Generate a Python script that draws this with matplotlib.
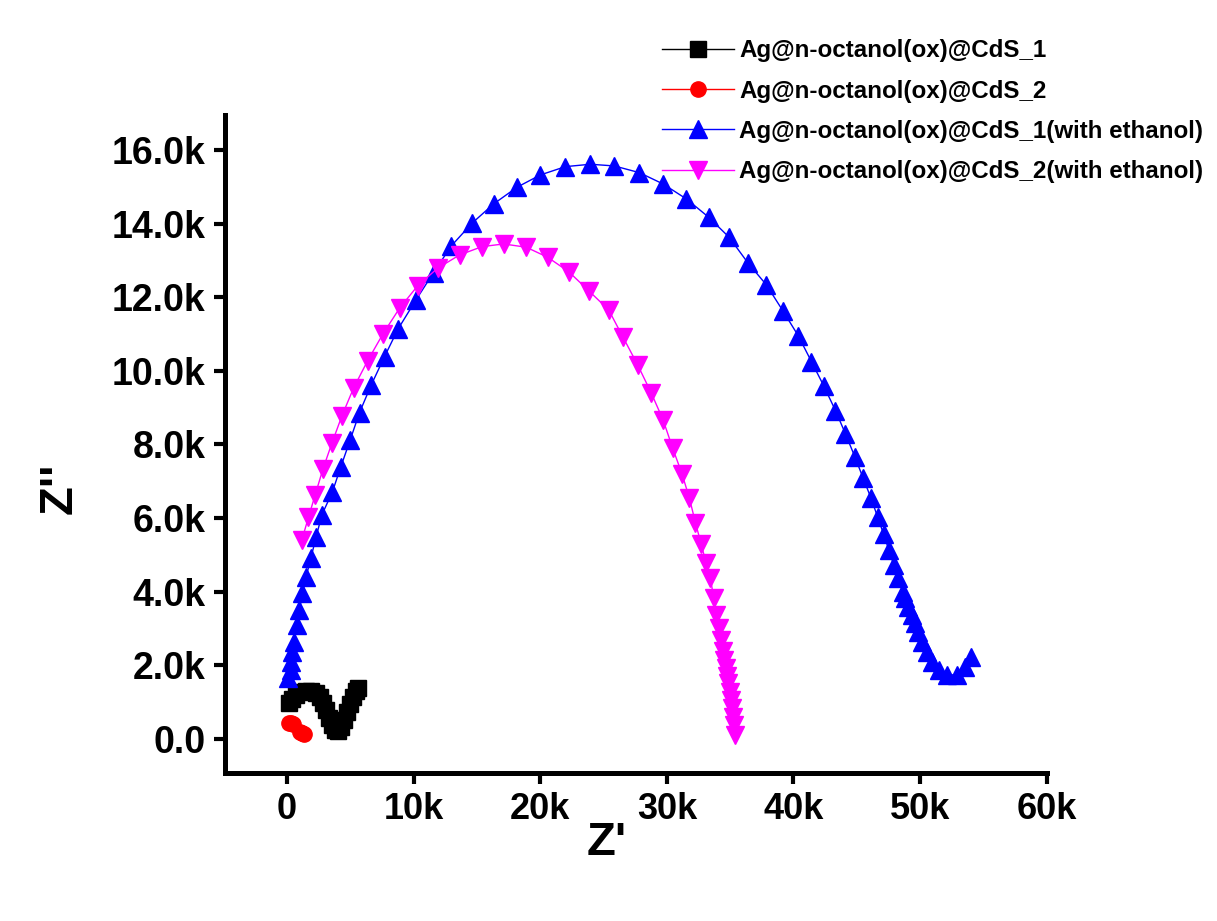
#!/usr/bin/env python3
# -*- coding: utf-8 -*-
"""
Nyquist plot (Z' vs Z'') for four Ag@n-octanol(ox)@CdS samples.
Saves out.png
"""

import matplotlib
matplotlib.use("Agg")
import matplotlib.pyplot as plt
from matplotlib.ticker import FuncFormatter


# --------------------------
# data (ohm)
# --------------------------

labels = [
    "Ag@n-octanol(ox)@CdS_1",
    "Ag@n-octanol(ox)@CdS_2",
    "Ag@n-octanol(ox)@CdS_1(with ethanol)",
    "Ag@n-octanol(ox)@CdS_2(with ethanol)",
]

cds1_x = [158, 395, 712, 1107, 1502, 1897, 2292, 2609, 2846, 3083, 3320,
          3557, 3794, 4032, 4269, 4506, 4743, 4980, 5217, 5455, 5613]
cds1_y = [978, 1087, 1196, 1277, 1304, 1304, 1250, 1141, 978, 788, 571,
          380, 245, 217, 326, 516, 734, 951, 1141, 1304, 1386]

cds2_x = [150, 300, 450, 1000, 1150, 1300]
cds2_y = [430, 440, 400, 200, 150, 130]

eth1_x = [103, 292, 292, 372, 553, 767, 972, 1209, 1502, 1873, 2292, 2743,
          3581, 4245, 4980, 5715, 6640, 7692, 8751, 10174, 11565, 12964,
          14601, 16308, 18158, 20000, 21976, 23953, 25850, 27826, 29700,
          31541, 33304, 34917, 36388, 37865, 39154, 40372, 41423, 42395,
          43320, 44110, 44845, 45509, 46110, 46640, 47114, 47533, 47928,
          48276, 48640, 48799, 49067, 49328, 49565, 49826, 50174, 50514,
          50964, 51487, 52150, 52941, 53518, 53992]
eth1_y = [1649, 1875, 2100, 2372, 2644, 3097, 3505, 3958, 4411, 4911, 5497,
          6087, 6720, 7399, 8124, 8866, 9617, 10387, 11132, 11928, 12670,
          13395, 14012, 14536, 14990, 15324, 15550, 15615, 15569, 15387,
          15079, 14672, 14175, 13631, 12941, 12335, 11637, 10958, 10251,
          9591, 8920, 8287, 7670, 7083, 6556, 6040, 5570, 5135, 4728, 4366,
          4002, 3823, 3595, 3369, 3144, 2915, 2644, 2372, 2100, 1875, 1739,
          1739, 1964, 2236]

eth2_x = [1162, 1684, 2213, 2822, 3533, 4324, 5241, 6348, 7565, 8877, 10300,
          11881, 13620, 15391, 17099, 18893, 20577, 22237, 23818, 25399,
          26537, 27692, 28751, 29700, 30459, 31202, 31779, 32253, 32704,
          33099, 33439, 33700, 33911, 34093, 34282, 34440, 34543, 34646,
          34757, 34862, 34966, 35075, 35154, 35233, 35336, 35415]
eth2_y = [5407, 6023, 6630, 7328, 8034, 8776, 9529, 10270, 11004, 11702,
          12308, 12789, 13150, 13376, 13449, 13360, 13088, 12697, 12181,
          11657, 10914, 10162, 9409, 8667, 7898, 7192, 6540, 5877, 5298,
          4774, 4366, 3823, 3369, 3008, 2690, 2399, 2146, 1921, 1712, 1513,
          1285, 1060, 834, 606, 380, 109]

x_ticks = [0, 10000, 20000, 30000, 40000, 50000, 60000]
y_ticks = [0, 2000, 4000, 6000, 8000, 10000, 12000, 14000, 16000]


def kfmt_x(v, pos):
    return "0" if v == 0 else f"{v / 1000:.0f}k"


def kfmt_y(v, pos):
    return "0.0" if v == 0 else f"{v / 1000:.1f}k"


def main():
    plt.rcParams["font.family"] = ["Liberation Sans", "DejaVu Sans"]
    plt.rcParams["font.weight"] = "bold"

    fig = plt.figure(figsize=(12.17, 9.21), dpi=100)
    ax = fig.add_axes([0.185, 0.161, 0.675, 0.714])

    series = [
        (cds1_x, cds1_y, "black", "s", 12),
        (cds2_x, cds2_y, "red", "o", 11),
        (eth1_x, eth1_y, "blue", "^", 13),
        (eth2_x, eth2_y, "magenta", "v", 13),
    ]
    for (xs, ys, c, m, ms), lab in zip(series, labels):
        ax.plot(xs, ys, color=c, lw=1.0, marker=m, ms=ms,
                mec=c, mfc=c, label=lab)

    ax.set_xlim(-4900, 60000)
    ax.set_ylim(-920, 16950)
    ax.set_xticks(x_ticks)
    ax.set_yticks(y_ticks)
    ax.xaxis.set_major_formatter(FuncFormatter(kfmt_x))
    ax.yaxis.set_major_formatter(FuncFormatter(kfmt_y))

    # only left / bottom axes, thick
    for s in ["top", "right"]:
        ax.spines[s].set_visible(False)
    for s in ["left", "bottom"]:
        ax.spines[s].set_linewidth(3.6)
    ax.tick_params(direction="out", length=8, width=3, labelsize=26, pad=6)
    ax.tick_params(axis="y", labelsize=27)
    for t in ax.get_xticklabels() + ax.get_yticklabels():
        t.set_fontweight("bold")

    ax.set_xlabel("Z'", fontsize=34, fontweight="bold")
    ax.set_ylabel("Z''", fontsize=34, fontweight="bold")
    ax.xaxis.set_label_coords(0.465, -0.073)
    ax.yaxis.set_label_coords(-0.175, 0.433)

    fig.legend(loc="upper left", bbox_to_anchor=(0.536, 0.968),
               frameon=False, handlelength=3.0,
               handletextpad=0.2, labelspacing=0.72, borderaxespad=0,
               prop={"weight": "bold", "size": 17.4})

    fig.savefig("out.png", dpi=100)
    print("[OK] saved out.png")


if __name__ == "__main__":
    main()
